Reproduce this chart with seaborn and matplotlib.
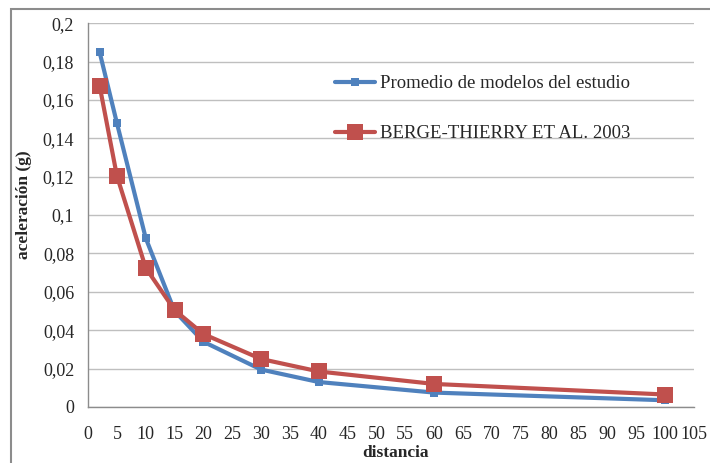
import pandas as pd
import matplotlib.pyplot as plt
import seaborn as sns
from matplotlib.patches import Rectangle

# data
distancia = [2, 5, 10, 15, 20, 30, 40, 60, 100]
promedio = [0.185, 0.148, 0.088, 0.050, 0.034, 0.0195, 0.013, 0.0075, 0.0035]
berge = [0.1675, 0.1205, 0.0725, 0.0505, 0.038, 0.025, 0.0185, 0.012, 0.0065]

x_ticks = list(range(0, 106, 5))
y_ticks = [0, 0.02, 0.04, 0.06, 0.08, 0.1, 0.12, 0.14, 0.16, 0.18, 0.2]
y_labels = ['0', '0,02', '0,04', '0,06', '0,08', '0,1', '0,12', '0,14', '0,16', '0,18', '0,2']

sns.set_style('white')
plt.rcParams['font.family'] = ['Liberation Serif', 'DejaVu Serif']

df = pd.DataFrame({'distancia': distancia, 'promedio': promedio, 'berge': berge})

fig = plt.figure(figsize=(7.1, 4.63), dpi=100)
ax = fig.add_axes([0.124, 0.121, 0.853, 0.829])

sns.lineplot(data=df, x='distancia', y='promedio', ax=ax, color='#4F81BD', lw=3,
             marker='s', markersize=6, markeredgewidth=0,
             label='Promedio de modelos del estudio')
sns.lineplot(data=df, x='distancia', y='berge', ax=ax, color='#C0504D', lw=3,
             marker='s', markersize=11, markeredgewidth=0,
             label='BERGE-THIERRY ET AL. 2003')

ax.set_xlim(0, 105)
ax.set_ylim(0, 0.2)
ax.set_xticks(x_ticks)
ax.set_xticklabels([str(t) for t in x_ticks])
ax.set_yticks(y_ticks)
ax.set_yticklabels(y_labels)
ax.yaxis.grid(True, color='#BFBFBF', lw=1)
ax.set_axisbelow(True)

for s in ['top', 'right']:
    ax.spines[s].set_visible(False)
for s in ['left', 'bottom']:
    ax.spines[s].set_color('#8C8C8C')
    ax.spines[s].set_linewidth(1)
ax.tick_params(axis='both', direction='out', length=5, width=1, color='#8C8C8C',
               labelsize=13, pad=9)
ax.tick_params(axis='y', pad=5)

ax.set_xlabel('distancia', fontsize=12.5, fontweight='bold')
ax.set_ylabel('aceleración (g)', fontsize=12.5, fontweight='bold')
ax.xaxis.set_label_coords(0.507, -0.1)
ax.yaxis.set_label_coords(-0.093, 0.526)

ax.get_legend().remove()
handles, labels = ax.get_legend_handles_labels()
fig.legend(handles, labels, loc='upper left', bbox_to_anchor=(0.448, 0.874),
           frameon=False, fontsize=13.5, handlelength=2.15, handletextpad=0.25,
           labelspacing=1.75)

# outer chart frame (only top and left edges visible in the crop)
fig.patches.append(Rectangle((0.0155, -0.1), 1.1, 1.08, transform=fig.transFigure,
                             fill=False, edgecolor='#8C8C8C', lw=1.5))

fig.savefig('out.png', dpi=100)
